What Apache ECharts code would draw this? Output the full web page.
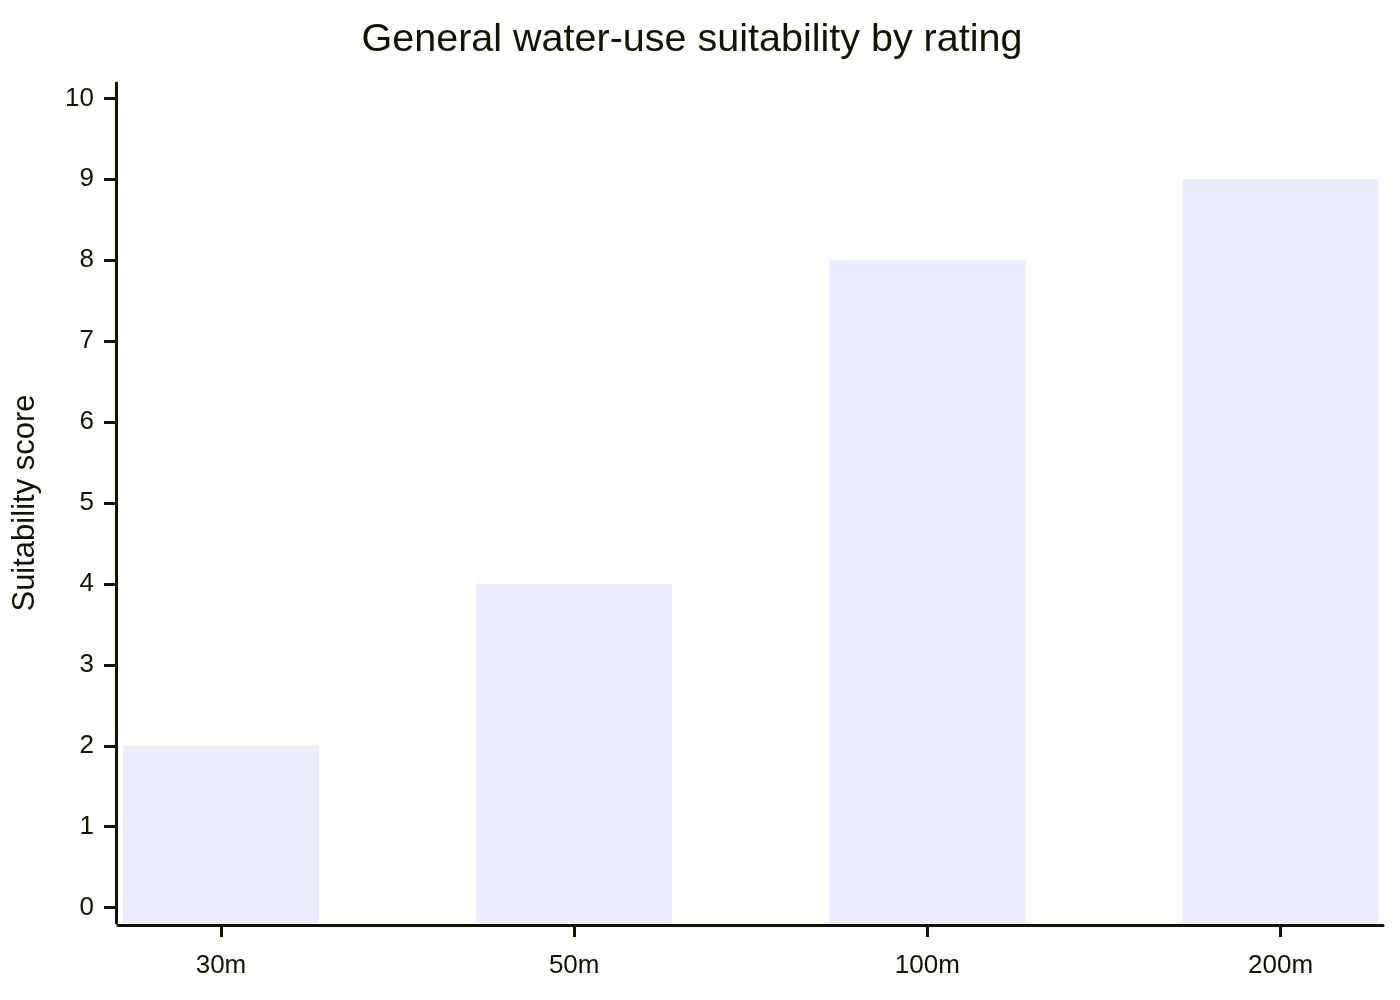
<!DOCTYPE html>
<html>
<head>
<meta charset="utf-8">
<script src="https://cdn.jsdelivr.net/npm/echarts@6/dist/echarts.min.js"></script>
<style>html,body{margin:0;padding:0;background:#fff;}#c{width:1400px;height:1000px;}</style>
</head>
<body>
<div id="c"></div>
<script>
const TITLE = 'General water-use suitability by rating';
const Y_NAME = 'Suitability score';
const categories = ['30m', '50m', '100m', '200m'];
const scores = [2, 4, 8, 9];
const yTicks = [0, 1, 2, 3, 4, 5, 6, 7, 8, 9, 10];

const Y_MIN = -0.19, Y_MAX = 10.19;
const X_MIN = -0.2916, X_MAX = 3.29;
const BAR_HALF = 0.2775;
const INK = '#131300';
const FONT = '"Liberation Sans", Arial, sans-serif';

const chart = echarts.init(document.getElementById('c'), null, {renderer: 'canvas'});
chart.setOption({
  animation: false,
  backgroundColor: '#ffffff',
  title: {
    text: TITLE, left: 687, top: 15, textAlign: 'center',
    textStyle: {fontFamily: FONT, fontSize: 39.5, fontWeight: 'normal', color: INK}
  },
  grid: {left: 118, right: 17, top: 83, bottom: 77, containLabel: false, outerBoundsMode: 'none'},
  xAxis: {
    type: 'value', min: X_MIN, max: X_MAX, offset: 2,
    splitLine: {show: false},
    axisLine: {show: true, onZero: false, lineStyle: {color: INK, width: 3}},
    axisTick: {show: true, length: 12, lineStyle: {color: INK, width: 3}, customValues: categories.map((c, i) => i)},
    axisLabel: {
      customValues: categories.map((c, i) => i),
      formatter: v => categories[Math.round(v)],
      fontFamily: FONT, fontSize: 26, color: INK, margin: 28
    }
  },
  yAxis: {
    type: 'value', min: Y_MIN, max: Y_MAX, offset: 2,
    name: Y_NAME, nameLocation: 'middle', nameGap: 75, nameRotate: 90,
    nameTextStyle: {fontFamily: FONT, fontSize: 31, color: INK},
    splitLine: {show: false},
    axisLine: {show: true, onZero: false, lineStyle: {color: INK, width: 3}},
    axisTick: {show: true, length: 12, lineStyle: {color: INK, width: 3}, customValues: yTicks},
    axisLabel: {customValues: yTicks, fontFamily: FONT, fontSize: 26, color: INK, margin: 22}
  },
  series: [{
    type: 'custom',
    data: scores.map((v, i) => [i, v]),
    renderItem: function (params, api) {
      const x = api.value(0), y = api.value(1);
      const tl = api.coord([x - BAR_HALF, y]);
      const br = api.coord([x + BAR_HALF, Y_MIN]);
      return {
        type: 'rect',
        shape: {x: tl[0], y: tl[1], width: br[0] - tl[0], height: br[1] - tl[1]},
        style: {fill: '#ECECFF'}
      };
    },
    z: 1
  }]
});
</script>
</body>
</html>
